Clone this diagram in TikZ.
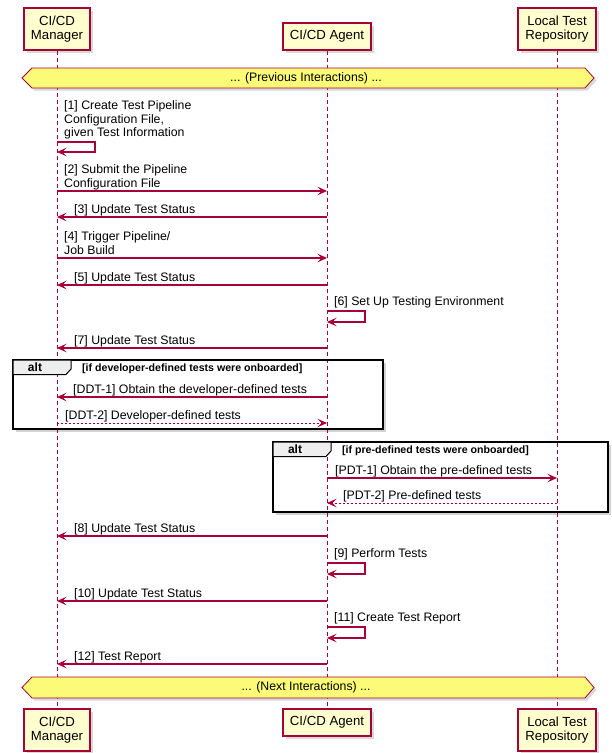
\documentclass[tikz,border=0pt]{standalone}
\usepackage{fontspec}
\setmainfont{Liberation Sans}
\usetikzlibrary{arrows.meta,shadows}

\definecolor{umlred}{HTML}{A80036}
\definecolor{umlbox}{HTML}{FEFECE}
\definecolor{umlband}{HTML}{FBFB77}
\definecolor{umltab}{HTML}{EEEEEE}

\tikzset{
  actor/.style={draw=umlred, fill=umlbox, line width=1.2pt, inner sep=0pt, align=center,
    font=\fontsize{13.2}{14.5}\selectfont,
    drop shadow={shadow xshift=2.5pt, shadow yshift=-2.5pt, opacity=0.3}},
  lifeline/.style={umlred, line width=0.8pt, dash pattern=on 4pt off 3pt},
  msg/.style={umlred, line width=1.1pt, -{Stealth[length=9.5pt, width=8.5pt, inset=4pt]}},
  reply/.style={msg, line width=0.9pt, dash pattern=on 2pt off 2pt},
  msgtext/.style={anchor=south west, inner sep=0pt, text depth=3pt, align=left,
    font=\fontsize{12.3}{13.5}\selectfont},
  band/.style={draw=umlred, fill=umlband, line width=0.8pt,
    drop shadow={shadow xshift=2.5pt, shadow yshift=-2.5pt, opacity=0.3}},
  bandtext/.style={inner sep=0pt, font=\fontsize{12.3}{13.5}\selectfont},
  altbg/.style={fill=white, drop shadow={shadow xshift=3pt, shadow yshift=-3pt, opacity=0.35}},
  altframe/.style={draw=black, line width=1.8pt},
  alttab/.style={draw=black, fill=umltab, line width=1pt},
  altname/.style={inner sep=0pt, font=\bfseries\fontsize{12}{13}\selectfont},
  guard/.style={anchor=west, inner sep=0pt, font=\bfseries\fontsize{10.6}{12}\selectfont}
}

\begin{document}
\begin{tikzpicture}[x=1pt,y=-1pt]
\useasboundingbox (0,0) rectangle (611,753);

% participants
\node[actor, minimum width=66, minimum height=42] (mgrtop) at (57,29) {CI/CD\\Manager};
\node[actor, minimum width=88, minimum height=27] (agttop) at (327,36.5) {CI/CD Agent};
\node[actor, minimum width=78, minimum height=42] (reptop) at (557,29) {Local Test\\Repository};
\node[actor, minimum width=66, minimum height=42] (mgrbot) at (57,730) {CI/CD\\Manager};
\node[actor, minimum width=88, minimum height=27] (agtbot) at (327,722.5) {CI/CD Agent};
\node[actor, minimum width=78, minimum height=42] (repbot) at (557,730) {Local Test\\Repository};

% alt backgrounds
\path[altbg] (13,360) rectangle (383,429);
\path[altbg] (273,442) rectangle (608,512);

% lifelines
\draw[lifeline] (mgrtop) -- (mgrbot);
\draw[lifeline] (agttop) -- (agtbot);
\draw[lifeline] (reptop) -- (repbot);

% dividers
\filldraw[band] (22,78) -- (32,68) -- (585,68) -- (594,78) -- (585,88) -- (32,88) -- cycle;
\node[bandtext] (prev) at (306,78) {... (Previous Interactions) ...};
\filldraw[band] (22,687.5) -- (32,677) -- (585,677) -- (594,687.5) -- (585,698) -- (32,698) -- cycle;
\node[bandtext] (next) at (306,687.5) {... (Next Interactions) ...};

% alt frames
\draw[altframe] (13,360) rectangle (383,429);
\filldraw[alttab] (13,360) -- (71,360) -- (71,369) -- (66,374.5) -- (13,374.5) -- cycle;
\node[altname] (alt1) at (35,367) {alt};
\node[guard] (guard1) at (82,368.5) {[if developer-defined tests were onboarded]};
\draw[altframe] (273,442) rectangle (608,512);
\filldraw[alttab] (273,442) -- (331,442) -- (331,451) -- (326,456.5) -- (273,456.5) -- cycle;
\node[altname] (alt2) at (295,449) {alt};
\node[guard] (guard2) at (342,450.5) {[if pre-defined tests were onboarded]};

% message end points
\coordinate (m1) at (57,142); \coordinate (m1e) at (57,152);
\coordinate (m2) at (57,191); \coordinate (a2) at (327,191);
\coordinate (m3) at (57,217); \coordinate (a3) at (327,217);
\coordinate (m4) at (57,258); \coordinate (a4) at (327,258);
\coordinate (m5) at (57,285); \coordinate (a5) at (327,285);
\coordinate (a6) at (327,311); \coordinate (a6e) at (327,322);
\coordinate (m7) at (57,348); \coordinate (a7) at (327,348);
\coordinate (md1) at (57,397); \coordinate (ad1) at (327,397);
\coordinate (md2) at (57,423); \coordinate (ad2) at (327,423);
\coordinate (ap1) at (327,478); \coordinate (rp1) at (557,478);
\coordinate (ap2) at (327,503); \coordinate (rp2) at (557,503);
\coordinate (m8) at (57,536); \coordinate (a8) at (327,536);
\coordinate (a9) at (327,563); \coordinate (a9e) at (327,574);
\coordinate (m10) at (57,601); \coordinate (a10) at (327,601);
\coordinate (a11) at (327,627); \coordinate (a11e) at (327,638);
\coordinate (m12) at (57,664); \coordinate (a12) at (327,664);

% messages
\draw[msg] (m1) -- ++(38,0) -- ++(0,10) -- (m1e);
\node[msgtext] (t1) at (64,140) {[1] Create Test Pipeline\\Configuration File,\\given Test Information};
\draw[msg] (m2) -- (a2);
\node[msgtext] (t2) at (64,190.5) {[2] Submit the Pipeline\\Configuration File};
\draw[msg] (a3) -- (m3);
\node[msgtext] (t3) at (74,216.5) {[3] Update Test Status};
\draw[msg] (m4) -- (a4);
\node[msgtext] (t4) at (64,257.5) {[4] Trigger Pipeline/\\Job Build};
\draw[msg] (a5) -- (m5);
\node[msgtext] (t5) at (74,284.5) {[5] Update Test Status};
\draw[msg] (a6) -- ++(38,0) -- ++(0,11) -- (a6e);
\node[msgtext] (t6) at (334,309) {[6] Set Up Testing Environment};
\draw[msg] (a7) -- (m7);
\node[msgtext] (t7) at (74,347.5) {[7] Update Test Status};
\draw[msg] (ad1) -- (md1);
\node[msgtext] (td1) at (73,396.5) {[DDT-1] Obtain the developer-defined tests};
\draw[reply] (md2) -- (ad2);
\node[msgtext] (td2) at (65,422.5) {[DDT-2] Developer-defined tests};
\draw[msg] (ap1) -- (rp1);
\node[msgtext] (tp1) at (335,477.5) {[PDT-1] Obtain the pre-defined tests};
\draw[reply] (rp2) -- (ap2);
\node[msgtext] (tp2) at (343,502.5) {[PDT-2] Pre-defined tests};
\draw[msg] (a8) -- (m8);
\node[msgtext] (t8) at (74,535.5) {[8] Update Test Status};
\draw[msg] (a9) -- ++(38,0) -- ++(0,11) -- (a9e);
\node[msgtext] (t9) at (334,561) {[9] Perform Tests};
\draw[msg] (a10) -- (m10);
\node[msgtext] (t10) at (74,600.5) {[10] Update Test Status};
\draw[msg] (a11) -- ++(38,0) -- ++(0,11) -- (a11e);
\node[msgtext] (t11) at (334,625) {[11] Create Test Report};
\draw[msg] (a12) -- (m12);
\node[msgtext] (t12) at (74,663.5) {[12] Test Report};
\end{tikzpicture}
\end{document}
